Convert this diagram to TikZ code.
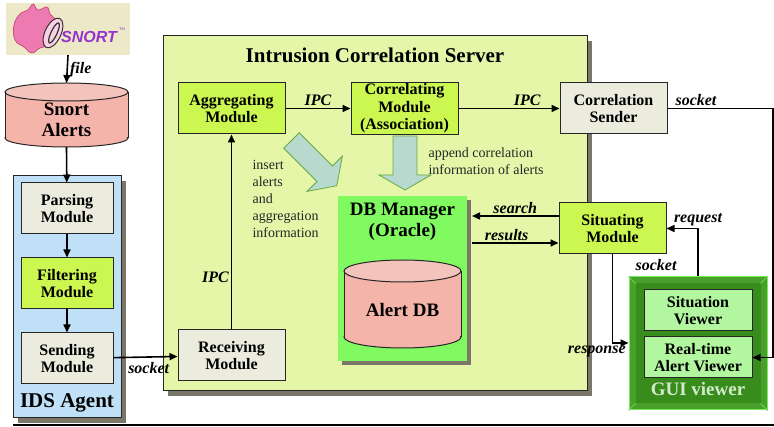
\documentclass[tikz,border=0pt]{standalone}
\usepackage{fontspec}
\setmainfont{Liberation Serif}
\newfontfamily\logofont{Liberation Sans}
\usetikzlibrary{arrows.meta,positioning,shadows}

\definecolor{srvbg}{RGB}{230,246,168}
\definecolor{lime}{RGB}{204,246,80}
\definecolor{modgray}{RGB}{235,235,222}
\definecolor{idsblue}{RGB}{192,224,247}
\definecolor{dbgreen}{RGB}{128,250,96}
\definecolor{shadowgray}{RGB}{122,119,104}
\definecolor{cylbody}{RGB}{245,180,170}
\definecolor{cyltop}{RGB}{243,196,188}
\definecolor{blockfill}{RGB}{184,218,206}
\definecolor{blockedge}{RGB}{100,170,70}
\definecolor{guiedge}{RGB}{120,235,90}
\definecolor{guiband}{RGB}{72,160,42}
\definecolor{guiface}{RGB}{56,140,28}
\definecolor{guitext}{RGB}{212,234,204}
\definecolor{viewgreen}{RGB}{178,246,160}
\definecolor{logobg}{RGB}{237,233,200}
\definecolor{pigpink}{RGB}{238,122,178}
\definecolor{pigdark}{RGB}{190,60,120}
\definecolor{snortpurple}{RGB}{150,50,205}

\newcommand{\modfnt}{\fontsize{16}{17.5}\selectfont\bfseries}
\newcommand{\lblfnt}{\fontsize{16}{18}\selectfont\bfseries\itshape}
\newcommand{\bigfnt}{\fontsize{19}{21}\selectfont\bfseries}

% database drum: centre x, half width, top y, bottom y, rim
\newcommand{\drawcyl}[5]{%
  \fill[cylbody] (#1-#2,#3) rectangle (#1+#2,#4);
  \begin{scope}
    \clip (#1-#2-1,#4) rectangle (#1+#2+1,#4+#5+2);
    \filldraw[fill=cylbody, draw=black!85, line width=1pt] (#1,#4) ellipse [x radius=#2, y radius=#5];
  \end{scope}
  \draw[line width=1pt, black!85] (#1-#2,#3) -- (#1-#2,#4) (#1+#2,#3) -- (#1+#2,#4);
  \filldraw[fill=cyltop, draw=black!85, line width=1pt] (#1,#3) ellipse [x radius=#2, y radius=#5];
}

\begin{document}
\begin{tikzpicture}[
    x=1pt, y=-1pt,
    mod/.style={
        rectangle, draw=black!85, line width=1pt, fill=#1,
        minimum width=107pt, minimum height=51pt, inner sep=1pt,
        align=center, font=\modfnt
    },
    box/.style={rectangle, draw=black!85, line width=1pt, fill=#1, inner sep=0pt},
    shade/.style={general shadow={fill=shadowgray, shadow xshift=#1, shadow yshift=-#1}},
    arr/.style={-{Triangle[length=8pt,width=7pt]}, line width=1.6pt},
    lbl/.style={font=\lblfnt, inner sep=2pt},
    big/.style={font=\bigfnt, align=center},
    note/.style={font=\fontsize{14}{17}\selectfont, align=left, text=black!85},
    blockarrow/.style={fill=blockfill, draw=blockedge, line width=0.8pt},
]
\useasboundingbox (0,0) rectangle (774,427);

% Snort logo
\node[rectangle, fill=logobg, minimum width=124pt, minimum height=52pt, inner sep=0pt] (logo) at (68,29) {};
\filldraw[fill=pigpink, draw=pigdark, line width=0.6pt] plot[smooth cycle, tension=0.7]
    coordinates {(14,25) (20,14) (28,10) (33,4) (38,10) (47,7) (50,14) (56,20) (58,30) (52,44) (40,48) (32,53) (24,47) (15,40)};
\filldraw[fill=pigpink!35, draw=black!80, line width=1pt, rotate around={-25:(53,33)}] (53,33) ellipse [x radius=8, y radius=16];
\draw[black!80, line width=1.2pt, rotate around={-25:(54,33)}] (54,33) ellipse [x radius=3, y radius=11];
\node[font=\fontsize{16}{16}\selectfont\bfseries\itshape\logofont, text=snortpurple, inner sep=0pt] (snort) at (89,37) {SNORT};
\node[font=\fontsize{4}{4}\selectfont\logofont, text=snortpurple, inner sep=0pt] (tm) at (122,29) {TM};

% Snort alerts file
\coordinate (alerttop) at (66.5,83);
\coordinate (alertbot) at (66.5,147);
\drawcyl{66.5}{61.5}{92}{138}{9}
\node[big] (alerts) at (66.5,120) {Snort\\Alerts};

% IDS agent
\node[box=idsblue, shade=5pt, minimum width=108pt, minimum height=242pt] (ids) at (67,297) {};
\node[mod=modgray, minimum width=92pt] (parsing) at (67,208.5) {Parsing\\Module};
\node[mod=lime, minimum width=92pt, below=23pt of parsing] (filtering) {Filtering\\Module};
\node[mod=modgray, minimum width=92pt, below=23pt of filtering] (sending) {Sending\\Module};
\node[font=\fontsize{21}{23}\selectfont\bfseries] (idstitle) at (67,403) {IDS Agent};

% Intrusion correlation server
\node[box=srvbg, shade=5pt, minimum width=424pt, minimum height=355pt] (server) at (375,213.5) {};
\node[font=\fontsize{21}{23}\selectfont\bfseries] (srvtitle) at (375,55) {Intrusion Correlation Server};
\node[mod=lime] (aggr) at (231.5,108.5) {Aggregating\\Module};
\node[mod=lime, right=65pt of aggr] (corr) {Correlating\\Module\\(Association)};
\node[mod=modgray, right=101pt of corr] (sender) {Correlation\\Sender};
\node[mod=modgray] (recv) at (231.5,355.5) {Receiving\\Module};
\node[mod=lime] (situ) at (612.5,228.5) {Situating\\Module};

% DB manager with the alert database
\node[box=dbgreen, draw=none, shade=4pt, minimum width=129pt, minimum height=165pt] (dbm) at (402.5,278.5) {};
\node[big] (dbmtitle) at (402.5,221.5) {DB Manager\\(Oracle)};
\drawcyl{402.5}{58.5}{271}{337}{11}
\node[big] (alertdb) at (402.5,310) {Alert DB};

% store arrows
\begin{scope}[shift={(291.5,140.5)}, rotate=-45]
  \filldraw[blockarrow] (0,-11) -- (47,-11) -- (47,-25) -- (64,0) -- (47,25) -- (47,11) -- (0,11) -- cycle;
\end{scope}
\filldraw[blockarrow] (393,136) -- (417,136) -- (417,175) -- (431,175) -- (405,190) -- (379,175) -- (393,175) -- cycle;
\node[note, anchor=west] (insertnote) at (249,199) {insert\\alerts\\and\\aggregation\\information};
\node[note, anchor=west] (appendnote) at (425,161) {append correlation\\information of alerts};

% GUI viewer
\node[rectangle, fill=guiband, draw=guiedge, line width=1pt, minimum width=138pt, minimum height=133pt] (gui) at (698,343.5) {};
\fill[guiface] ([shift={(7pt,7pt)}]gui.south west) rectangle ([shift={(-7pt,-7pt)}]gui.north east);
\draw[guiedge!70!guiband, line width=0.8pt]
    (gui.south west) -- ++(7pt,7pt) (gui.south east) -- ++(-7pt,7pt)
    (gui.north west) -- ++(7pt,-7pt) (gui.north east) -- ++(-7pt,-7pt);
\node[mod=viewgreen, minimum width=108pt, minimum height=41pt] (sitview) at (698,310.5) {Situation\\Viewer};
\node[mod=viewgreen, minimum width=108pt, minimum height=41pt] (rtview) at (698,357.5) {Real-time\\Alert Viewer};
\node[big, text=guitext] (guititle) at (698,389) {GUI viewer};

% Connections
\coordinate (sockbend) at (773,108.5);
\coordinate (srch) at (472,216);
\coordinate (rslt) at (472,243);
\draw[arr] (logo.south) -- node[lbl, right] {file} (alerttop);
\draw[arr] (alertbot) -- (parsing);
\draw[arr] (parsing) -- (filtering);
\draw[arr] (filtering) -- (sending);
\draw[arr] (sending) -- node[lbl, below=3pt, pos=0.55] {socket} (recv);
\draw[arr] (recv) -- node[lbl, left, pos=0.27] {IPC} (aggr);
\draw[arr] (aggr) -- node[lbl, above] {IPC} (corr);
\draw[arr] (corr) -- node[lbl, above, pos=0.68] {IPC} (sender);
\draw[arr] (sender) -- node[lbl, above, pos=0.27] {socket} (sockbend) |- (rtview);
\draw[arr] (situ.west |- srch) -- node[lbl, above] {search} (srch);
\draw[arr] (rslt) -- node[lbl, above, pos=0.4] {results} (situ.west |- rslt);
\draw[arr] (situ.south) |- node[lbl, anchor=north east, pos=1] {response} (gui.west |- 0,343);
\draw[arr] (gui.north) |- node[lbl, above, pos=0.5] {request} (situ.east);
\node[lbl] (guisock) at (656,265) {socket};

% rule under the figure
\draw[line width=2pt] (13,425) -- (774,425);
\end{tikzpicture}
\end{document}
